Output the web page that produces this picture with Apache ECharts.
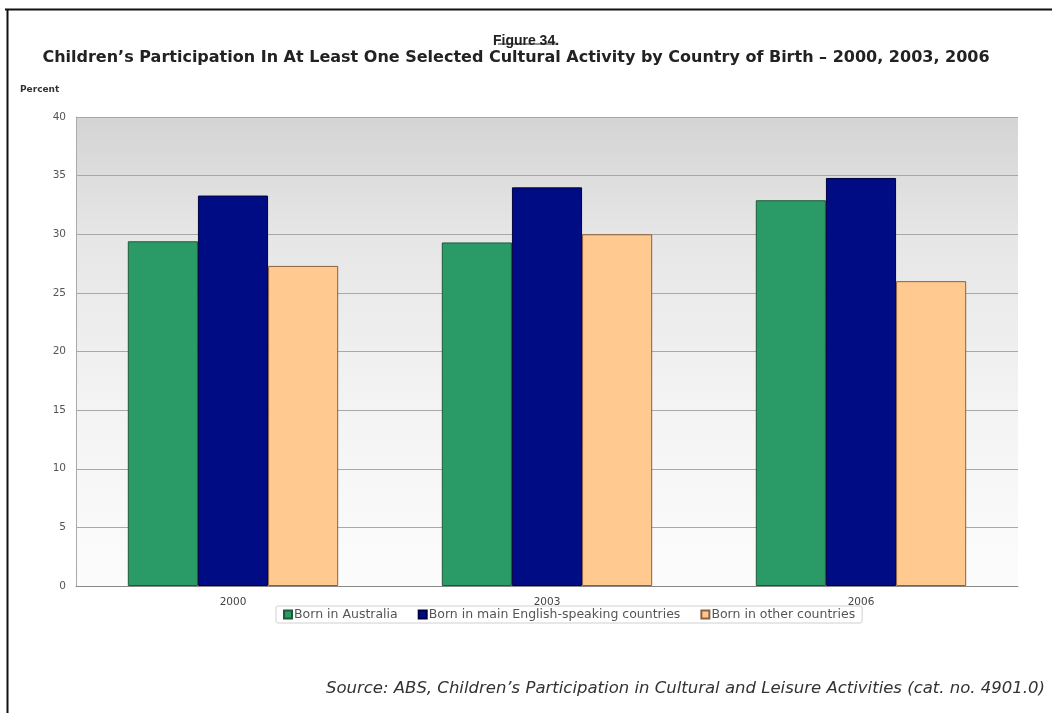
<!DOCTYPE html>
<html>
<head>
<meta charset="utf-8">
<script src="https://cdn.jsdelivr.net/npm/echarts@6/dist/echarts.min.js"></script>
<style>
html,body{margin:0;padding:0;background:#fff;}
#chart{width:1052px;height:713px;}
</style>
</head>
<body>
<div id="chart"></div>
<script>
const categories = ['2000', '2003', '2006'];
const seriesNames = ['Born in Australia', 'Born in main English-speaking countries', 'Born in other countries'];
const bornAustralia = [29.4, 29.3, 32.9];
const bornMainEnglish = [33.3, 34.0, 34.8];
const bornOther = [27.3, 30.0, 26.0];
const yTicks = { min: 0, max: 40, interval: 5 };

const colors = ['#2a9a66', '#000c84', '#ffc98f'];
const borders = ['#1d5a3a', '#000040', '#8a6040'];
const values = [bornAustralia, bornMainEnglish, bornOther];

const chart = echarts.init(document.getElementById('chart'));
chart.setOption({
  backgroundColor: '#ffffff',
  animation: false,
  title: [
    { text: 'Figure 34.', left: 'center', top: 29,
      textStyle: { fontFamily: 'Liberation Sans', fontSize: 14, fontWeight: 'bold', color: '#222' } },
    { text: 'Percent', left: 15, top: 80,
      textStyle: { fontFamily: 'DejaVu Sans', fontSize: 9, fontWeight: 'bold', color: '#333' } }
  ],
  legend: {
    data: seriesNames,
    left: 276, top: 606,
    itemWidth: 8, itemHeight: 8, itemGap: 20,
    borderColor: '#d0d0d0', borderWidth: 1, borderRadius: 2,
    padding: [2, 7],
    textStyle: { fontFamily: 'DejaVu Sans', fontSize: 12.5, color: '#555', padding: [0, 0, 0, -3] },
    icon: 'rect'
  },
  grid: {
    left: 76, right: 34, top: 117, bottom: 127,
    show: true, borderWidth: 0,
    backgroundColor: {
      type: 'linear', x: 0, y: 0, x2: 0, y2: 1,
      colorStops: [
        { offset: 0, color: '#d4d4d4' },
        { offset: 0.25, color: '#e6e6e6' },
        { offset: 0.6, color: '#f3f3f3' },
        { offset: 1, color: '#fcfcfc' }
      ]
    }
  },
  xAxis: {
    type: 'category',
    data: categories,
    axisLine: { show: true, lineStyle: { color: '#888', width: 1 } },
    axisTick: { show: false },
    axisLabel: { fontFamily: 'DejaVu Sans', fontSize: 10.5, color: '#444', margin: 11 }
  },
  yAxis: {
    type: 'value',
    min: yTicks.min, max: yTicks.max, interval: yTicks.interval,
    axisLine: { show: true, lineStyle: { color: '#aaa', width: 1 } },
    axisTick: { show: false },
    axisLabel: { fontFamily: 'DejaVu Sans', fontSize: 10.5, color: '#555', margin: 10 },
    splitLine: { show: true, lineStyle: { color: '#a8a8a8', width: 1 } }
  },
  series: seriesNames.map((name, i) => ({
    name: name,
    type: 'bar',
    data: values[i],
    barGap: '0%',
    barCategoryGap: '33%',
    itemStyle: { color: colors[i], borderColor: borders[i], borderWidth: 1 }
  })),
  graphic: [
    { type: 'text', style: {
        x: 516, y: 58, align: 'center', verticalAlign: 'middle',
        text: 'Children\u2019s Participation In At Least One Selected Cultural Activity by Country of Birth \u2013 2000, 2003, 2006',
        font: 'bold 16px "DejaVu Sans"', fill: '#222' } },
    { type: 'text', style: {
        x: 1045, y: 689, align: 'right', verticalAlign: 'middle',
        text: 'Source: ABS, Children\u2019s Participation in Cultural and Leisure Activities (cat. no. 4901.0)',
        font: 'italic 16.5px "DejaVu Sans"', fill: '#333' } },
    { type: 'line', shape: { x1: 498, y1: 44, x2: 557, y2: 44 }, style: { stroke: '#222', lineWidth: 1 } },
    { type: 'line', shape: { x1: 5, y1: 9.5, x2: 1052, y2: 9.5 }, style: { stroke: '#111', lineWidth: 2 } },
    { type: 'line', shape: { x1: 7.5, y1: 9, x2: 7.5, y2: 713 }, style: { stroke: '#111', lineWidth: 2 } }
  ]
});
</script>
</body>
</html>
